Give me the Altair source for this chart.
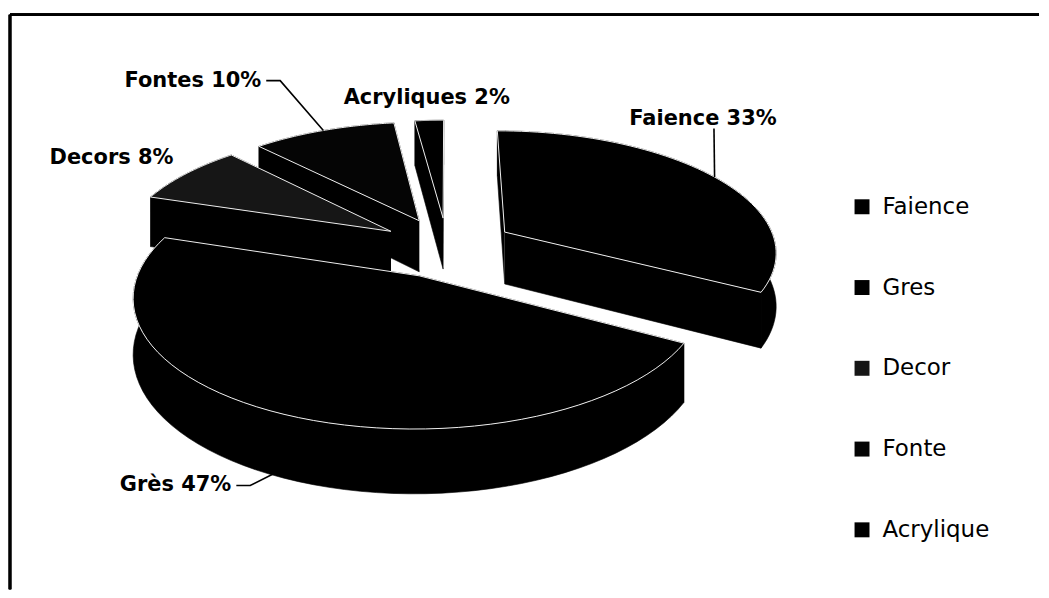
import altair as alt
import pandas as pd
import math

# ---------------- data ----------------
legend_names = ["Faience", "Gres", "Decor", "Fonte", "Acrylique"]
label_names = ["Faience", "Grès", "Decors", "Fontes", "Acryliques"]
shares = [33, 47, 8, 10, 2]
slice_colors = ["#000000", "#000000", "#161616", "#050505", "#000000"]

label_texts = [f"{n} {v}%" for n, v in zip(label_names, shares)]
df = pd.DataFrame({"legend": legend_names, "label": label_texts, "value": shares})

# ---------------- layout / style ----------------
W, H = 1033, 582
CX, CY = 439.5, 239      # pie centre (px)
RX, RY = 273, 121        # ellipse radii (px)
P = 0.15                 # perspective factor
D = 53                   # pie thickness (px)
E = 0.25                 # explode distance (fraction of radius)
N = 60                   # points per arc
FONT = "DejaVu Sans"

# label placement in pie coordinates: angle (deg, clockwise from top), radius, text style, leader
LABEL_LAYOUT = {
    "Faience":   dict(angle=42.31,  radius=1.388, align="center", baseline="alphabetic", dx=-11, dy=-4, elbow=0,  tz=0.0),
    "Gres":      dict(angle=201.06, radius=1.387, align="right",  baseline="middle",     dx=-5,  dy=0,  elbow=14, tz=0.85),
    "Decor":     dict(angle=307.64, radius=1.135, align="right",  baseline="middle",     dx=-5,  dy=0,  elbow=None, tz=0.0),
    "Fonte":     dict(angle=334.20, radius=1.682, align="right",  baseline="middle",     dx=-5,  dy=0,  elbow=14, tz=0.0),
    "Acrylique": dict(angle=356.26, radius=1.153, align="center", baseline="alphabetic", dx=0,   dy=-4, elbow=None, tz=0.0),
}


def by_cat(key, conv=lambda v: v, default=0):
    expr = str(default)
    for name in reversed(legend_names):
        v = LABEL_LAYOUT[name][key]
        if v is None:
            v = 0
        expr = f"datum.legend == '{name}' ? {conv(v)} : ({expr})"
    return expr


PX = f"{CX} + {RX}*datum.U/(1 - {P}*datum.V)"
PY = f"{CY} + ({RY}*datum.V + {D}*datum.z)/(1 - {P}*datum.V)"
UEXPR = "datum.ex + datum.r*sin(datum.ang)"
VEXPR = "datum.ey - datum.r*cos(datum.ang)"

X = alt.X("px:Q", scale=alt.Scale(domain=[0, W], nice=False, zero=False), axis=None)
Y = alt.Y("py:Q", scale=alt.Scale(domain=[0, H], nice=False, zero=False, reverse=True), axis=None)

base = (
    alt.Chart(df)
    .transform_joinaggregate(total="sum(value)")
    .transform_window(cum="sum(value)", frame=[None, 0])
    .transform_calculate(
        a0="2*PI*(datum.cum - datum.value)/datum.total",
        a1="2*PI*datum.cum/datum.total",
    )
    .transform_calculate(mid="(datum.a0 + datum.a1)/2")
    .transform_calculate(ex=f"{E}*sin(datum.mid)", ey=f"-{E}*cos(datum.mid)")
)

# outer curved wall
outer = (
    base.transform_calculate(ks=f"sequence(0, {2 * N + 2})")
    .transform_flatten(["ks"], as_=["k"])
    .transform_calculate(
        t=f"datum.k <= {N} ? datum.k/{N} : ({2 * N + 1} - datum.k)/{N}",
        z=f"datum.k <= {N} ? 0 : 1",
        r="1",
    )
    .transform_calculate(ang="datum.a0 + datum.t*(datum.a1 - datum.a0)")
    .transform_calculate(U=UEXPR, V=VEXPR)
    .transform_calculate(px=PX, py=PY)
    .mark_line(fill="#000000", stroke="#000000", strokeWidth=0.6, interpolate="linear")
    .encode(x=X, y=Y, order="k:Q", detail="legend:N")
)

# radial cut walls
radial = (
    base.transform_calculate(ws="[0, 1]")
    .transform_flatten(["ws"], as_=["w"])
    .transform_calculate(ks="sequence(0, 4)")
    .transform_flatten(["ks"], as_=["k"])
    .transform_calculate(
        ang="datum.w == 0 ? datum.a0 : datum.a1",
        r="(datum.k == 1 || datum.k == 2) ? 1 : 0",
        z="datum.k >= 2 ? 1 : 0",
    )
    .transform_calculate(U=UEXPR, V=VEXPR)
    .transform_calculate(px=PX, py=PY)
    .mark_line(fill="#000000", stroke="#000000", strokeWidth=0.6, interpolate="linear")
    .encode(x=X, y=Y, order="k:Q", detail=["legend:N", "w:N"])
)

# top faces (carry the legend)
top = (
    base.transform_calculate(ks=f"sequence(0, {N + 3})")
    .transform_flatten(["ks"], as_=["k"])
    .transform_calculate(
        t=f"clamp((datum.k - 1)/{N}, 0, 1)",
        r=f"(datum.k == 0 || datum.k == {N + 2}) ? 0 : 1",
        z="0",
    )
    .transform_calculate(ang="datum.a0 + datum.t*(datum.a1 - datum.a0)")
    .transform_calculate(U=UEXPR, V=VEXPR)
    .transform_calculate(px=PX, py=PY)
    .mark_line(stroke="#eeeeee", strokeWidth=1, strokeJoin="round", interpolate="linear")
    .encode(
        x=X,
        y=Y,
        order="k:Q",
        fill=alt.Fill(
            "legend:N",
            scale=alt.Scale(domain=legend_names, range=slice_colors),
            legend=alt.Legend(
                title=None,
                orient="none",
                legendX=844,
                legendY=187,
                direction="vertical",
                symbolType="square",
                symbolSize=225,
                symbolStrokeWidth=0,
                labelFont=FONT,
                labelFontSize=23,
                labelColor="#000000",
                labelOffset=9,
                labelLimit=300,
                rowPadding=57,
                padding=0,
            ),
        ),
    )
)

# label anchors
lab = (
    base.transform_calculate(
        la=by_cat("angle", lambda v: f"{math.radians(v):.5f}"),
        lr=by_cat("radius"),
        elbow=by_cat("elbow"),
        tz=by_cat("tz"),
    )
)

text_layers = []
for name in legend_names:
    cfg = LABEL_LAYOUT[name]
    t = (
        lab.transform_filter(alt.datum.legend == name)
        .transform_calculate(r="datum.lr", ang="datum.la", z="0")
        .transform_calculate(U=UEXPR, V=VEXPR)
        .transform_calculate(px=PX, py=PY)
        .mark_text(
            align=cfg["align"],
            baseline=cfg["baseline"],
            dx=cfg["dx"],
            dy=cfg["dy"],
            font=FONT,
            fontWeight="bold",
            fontSize=21,
            color="#000000",
        )
        .encode(x=X, y=Y, text="label:N")
    )
    text_layers.append(t)

leader_names = [n for n in legend_names if LABEL_LAYOUT[n]["elbow"] is not None]
leaders = (
    lab.transform_filter(alt.FieldOneOfPredicate(field="legend", oneOf=leader_names))
    .transform_calculate(ks="sequence(0, 3)")
    .transform_flatten(["ks"], as_=["k"])
    .transform_calculate(
        ang="datum.k == 2 ? datum.mid : datum.la",
        r="datum.k == 2 ? 1 : datum.lr",
        z="datum.k == 2 ? datum.tz : 0",
    )
    .transform_calculate(U=UEXPR, V=VEXPR)
    .transform_calculate(px=PX + " + (datum.k == 1 ? datum.elbow : 0)", py=PY)
    .mark_line(stroke="#000000", strokeWidth=1.6, interpolate="linear")
    .encode(x=X, y=Y, order="k:Q", detail="legend:N")
)

# chart frame
frame_top = alt.Chart(df).mark_rule(color="#000000", strokeWidth=2.5).encode(
    x=alt.value(1), x2=alt.value(W), y=alt.value(6)
)
frame_left = alt.Chart(df).mark_rule(color="#000000", strokeWidth=2.5).encode(
    x=alt.value(1), y=alt.value(6), y2=alt.value(H)
)

chart = (
    alt.layer(outer, radial, top, leaders, *text_layers, frame_top, frame_left)
    .properties(width=W, height=H, padding=0, background="white")
    .configure_view(stroke=None)
)

chart.save("out.html", embed_options={"renderer": "svg", "actions": False})
